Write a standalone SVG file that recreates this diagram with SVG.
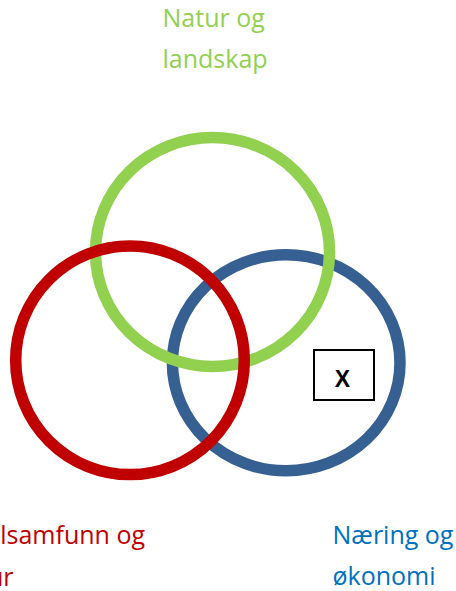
<svg xmlns="http://www.w3.org/2000/svg" width="456" height="591" viewBox="0 0 456 591">
<style>
.ring{fill:none;stroke-width:11.5}
.lbl{font-family:"Open Sans","Noto Sans",sans-serif;font-size:25px}
</style>
<rect width="456" height="591" fill="#ffffff"/>
<g id="okonomi">
<ellipse class="ring" cx="286.2" cy="362.8" rx="113.8" ry="108" stroke="#376092"/>
</g>
<g id="natur">
<ellipse class="ring" cx="212.5" cy="252" rx="117" ry="114.5" stroke="#92D050"/>
</g>
<g id="samfunn">
<circle class="ring" cx="130" cy="360.3" r="114.3" stroke="#C00000"/>
</g>
<g id="marker-x">
<rect x="314" y="350" width="60" height="50" fill="#ffffff" stroke="#000000" stroke-width="2"/>
<text x="342.5" y="386.7" text-anchor="middle" font-family="'Liberation Sans',Arial,sans-serif" font-weight="bold" font-size="23" fill="#000000">X</text>
</g>
<g id="labels">
<text class="lbl" x="162.5" y="27.3" fill="#92D050">Natur og</text>
<text class="lbl" x="162.5" y="68.3" fill="#92D050">landskap</text>
<text class="lbl" x="145" y="544.3" text-anchor="end" fill="#C00000">lsamfunn og</text>
<text class="lbl" x="13.5" y="585.5" text-anchor="end" fill="#C00000">ur</text>
<text class="lbl" x="332.5" y="544.3" fill="#0070C0">Næring og</text>
<text class="lbl" x="332.5" y="584.5" fill="#0070C0">økonomi</text>
</g>
</svg>
